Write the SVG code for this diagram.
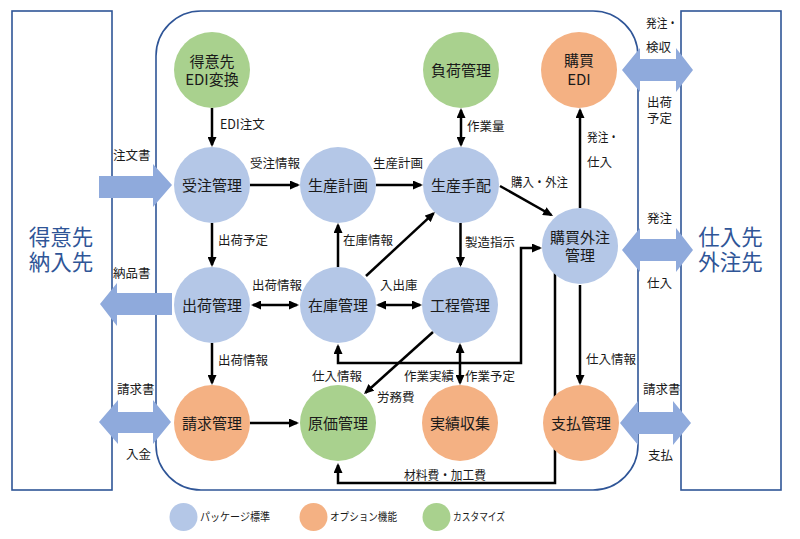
<svg xmlns="http://www.w3.org/2000/svg" width="800" height="539" viewBox="0 0 800 539">
<defs>
<style>
text{font-family:"Noto Sans CJK JP","Noto Sans",sans-serif;fill:#1a1a1a}
.big{font-size:21.5px;fill:#2F5597;text-anchor:middle}
.nt{font-size:15px;text-anchor:middle}
.lb{font-size:12.5px}
.lg{font-size:11px}
.box{fill:#fff;stroke:#2F5597;stroke-width:1.6}
.blue{fill:#B4C7E7}
.orange{fill:#F4B183}
.green{fill:#A9D18E}
.barrow{fill:#8FAADC}
#connectors path{stroke:#000;stroke-width:2.5;fill:none}
.e{marker-end:url(#ah)}
.b{marker-start:url(#ah);marker-end:url(#ah)}
</style>
<marker id="ah" viewBox="0 0 10 9" refX="8" refY="4.5" markerWidth="10" markerHeight="9" markerUnits="userSpaceOnUse" orient="auto-start-reverse">
<path d="M0,0 L10,4.5 L0,9 z" fill="#000"/>
</marker>
</defs>
<rect width="800" height="539" fill="#fff"/>

<g id="customer">
<rect class="box" x="12" y="11" width="100" height="479"/>
<text class="big" x="61" y="244.5">得意先</text>
<text class="big" x="61" y="270">納入先</text>
</g>
<g id="supplier">
<rect class="box" x="681" y="11" width="100" height="479"/>
<text class="big" x="730.5" y="244.5">仕入先</text>
<text class="big" x="730.5" y="270">外注先</text>
</g>
<g id="system">
<rect class="box" x="156" y="11" width="482" height="479" rx="45" ry="45"/>
</g>

<g id="interfaces">
<polygon class="barrow" points="99,176 153,176 153,164 172,185 153,207 153,198 99,198"/>
<polygon class="barrow" points="100,304 117,283 117,293 172,293 172,315 117,315 117,326"/>
<polygon class="barrow" points="99,422 118,400 118,412 153,412 153,400 171,422 153,444 153,433 118,433 118,444"/>
<polygon class="barrow" points="622,70 640,48 640,59 676,59 676,48 693,70 676,92 676,81 640,81 640,92"/>
<polygon class="barrow" points="622,250 640,228 640,239 676,239 676,228 693,250 676,272 676,261 640,261 640,272"/>
<polygon class="barrow" points="620,423 638,401 638,412 673,412 673,401 691,423 673,445 673,434 638,434 638,445"/>
<text class="lb" x="113" y="160">注文書</text>
<text class="lb" x="113" y="277.5">納品書</text>
<text class="lb" x="117" y="394">請求書</text>
<text class="lb" x="126" y="459">入金</text>
<text class="lb" x="646" y="28" textLength="32" lengthAdjust="spacingAndGlyphs">発注・</text>
<text class="lb" x="646" y="51.5">検収</text>
<text class="lb" x="647" y="106.5">出荷</text>
<text class="lb" x="647" y="122.5">予定</text>
<text class="lb" x="647" y="222.5">発注</text>
<text class="lb" x="647" y="287.5">仕入</text>
<text class="lb" x="643" y="394">請求書</text>
<text class="lb" x="648" y="459.5">支払</text>
</g>

<g id="connectors">
<path class="e" d="M212,108 V145"/>
<path class="e" d="M250,185 H298"/>
<path class="e" d="M376,185 H421"/>
<path class="b" d="M461,110 V145"/>
<path class="e" d="M500,186 L551.3,215"/>
<path class="e" d="M580,208 V110"/>
<path class="e" d="M212,223 V265"/>
<path class="b" d="M253,305 H297"/>
<path class="e" d="M212,343 V383"/>
<path class="e" d="M250,423 H297"/>
<path class="e" d="M338,267 V225"/>
<path class="e" d="M366,276 L433.5,213.4"/>
<path class="b" d="M378,305 H420"/>
<path class="e" d="M460.5,223 V265"/>
<path class="e" d="M433,332 L365.5,392.7"/>
<path class="b" d="M460,345 V383"/>
<path class="b" d="M338,346 V363 H521 V248 H540"/>
<path class="e" d="M555,273 V483 H338 V465"/>
<path class="e" d="M580,285 V383"/>
<text class="lb" x="220" y="128.5">EDI注文</text>
<text class="lb" x="250" y="167.5">受注情報</text>
<text class="lb" x="373" y="167.5">生産計画</text>
<text class="lb" x="467" y="130.5">作業量</text>
<text class="lb" x="511" y="187" textLength="57" lengthAdjust="spacingAndGlyphs">購入・外注</text>
<text class="lb" x="587" y="141.5" textLength="32" lengthAdjust="spacingAndGlyphs">発注・</text>
<text class="lb" x="587" y="166.5">仕入</text>
<text class="lb" x="218" y="244.5">出荷予定</text>
<text class="lb" x="252" y="289.5">出荷情報</text>
<text class="lb" x="343" y="244.5">在庫情報</text>
<text class="lb" x="380" y="289.5">入出庫</text>
<text class="lb" x="465" y="246.5">製造指示</text>
<text class="lb" x="218" y="364.5">出荷情報</text>
<text class="lb" x="312" y="380.5">仕入情報</text>
<text class="lb" x="404" y="380.5">作業実績</text>
<text class="lb" x="465" y="380.5">作業予定</text>
<text class="lb" x="377" y="401.5">労務費</text>
<text class="lb" x="586" y="363.5">仕入情報</text>
<text class="lb" x="404" y="479.5" textLength="82" lengthAdjust="spacingAndGlyphs">材料費・加工費</text>
</g>

<g id="n-edi-cust"><circle class="green" cx="212" cy="70" r="38"/><text class="nt" x="212" y="66.5">得意先</text><text class="nt" x="212" y="84.5">EDI変換</text></g>
<g id="n-juchu"><circle class="blue" cx="212" cy="185" r="38"/><text class="nt" x="212" y="191">受注管理</text></g>
<g id="n-shukka"><circle class="blue" cx="212" cy="305" r="38"/><text class="nt" x="212" y="311">出荷管理</text></g>
<g id="n-seikyu"><circle class="orange" cx="212" cy="423" r="38"/><text class="nt" x="212" y="429">請求管理</text></g>
<g id="n-keikaku"><circle class="blue" cx="338" cy="185" r="38"/><text class="nt" x="338" y="191">生産計画</text></g>
<g id="n-tehai"><circle class="blue" cx="461" cy="185" r="38"/><text class="nt" x="461" y="191">生産手配</text></g>
<g id="n-fuka"><circle class="green" cx="461" cy="70" r="38"/><text class="nt" x="461" y="76">負荷管理</text></g>
<g id="n-edi-buy"><circle class="orange" cx="579" cy="70" r="38"/><text class="nt" x="579" y="65.5">購買</text><text class="nt" x="579" y="85">EDI</text></g>
<g id="n-kobai"><circle class="blue" cx="580" cy="246" r="38"/><text class="nt" x="580" y="243">購買外注</text><text class="nt" x="580" y="260.5">管理</text></g>
<g id="n-zaiko"><circle class="blue" cx="338" cy="305" r="38"/><text class="nt" x="338" y="311">在庫管理</text></g>
<g id="n-kotei"><circle class="blue" cx="460" cy="305" r="38"/><text class="nt" x="460" y="311">工程管理</text></g>
<g id="n-genka"><circle class="green" cx="338" cy="423" r="38"/><text class="nt" x="338" y="429">原価管理</text></g>
<g id="n-jisseki"><circle class="orange" cx="460" cy="423" r="38"/><text class="nt" x="460" y="429">実績収集</text></g>
<g id="n-shiharai"><circle class="orange" cx="581" cy="423" r="38"/><text class="nt" x="581" y="429">支払管理</text></g>

<g id="legend">
<circle class="blue" cx="183.5" cy="517" r="14"/>
<text class="lg" x="200" y="521" textLength="70" lengthAdjust="spacingAndGlyphs">パッケージ標準</text>
<circle class="orange" cx="313.5" cy="517" r="14"/>
<text class="lg" x="330" y="521" textLength="67" lengthAdjust="spacingAndGlyphs">オプション機能</text>
<circle class="green" cx="436.5" cy="517" r="14"/>
<text class="lg" x="453" y="521" textLength="52" lengthAdjust="spacingAndGlyphs">カスタマイズ</text>
</g>
</svg>
